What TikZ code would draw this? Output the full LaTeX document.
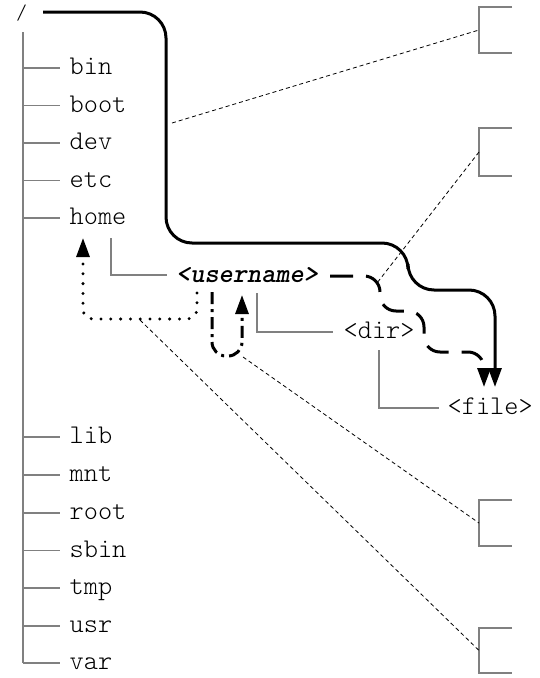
\documentclass[tikz,border=0pt]{standalone}
\usepackage{fontspec}
\usetikzlibrary{arrows.meta}
\definecolor{treegray}{RGB}{128,128,128}
\begin{document}
\begin{tikzpicture}[x=1pt,y=-1pt,
  tree/.style={draw=treegray, line width=1.7pt},
  lbl/.style={anchor=base west, inner sep=0pt, font=\ttfamily\fontseries{l}\fontsize{27pt}{32pt}\selectfont},
  heavy/.style={draw=black, line width=3pt},
  tip/.style={-{Triangle[length=19pt,width=13pt]}},
  thin dash/.style={draw=black, line width=0.8pt, dash pattern=on 4pt off 3pt},
  bracket/.style={draw=treegray, line width=1.8pt}]
\useasboundingbox (0,0) rectangle (540,678);

% labels
\node[lbl, font=\ttfamily\fontseries{l}\fontsize{21pt}{25pt}\selectfont] (root-dir) at (16,19) {/};
\foreach \n/\y in {bin/68, boot/105.5, dev/143, etc/180.5, home/218, lib/437, mnt/475, root/513, sbin/550.5, tmp/588, usr/626, var/663} {
  \coordinate (b-\n) at (23,\y);
  \node[lbl] (\n) at (69.5,\y+6.5) {\n};
  \draw[tree] (b-\n) -- ++(37,0);
}
\coordinate (trunk-top) at (23,32);
\draw[tree] (trunk-top) -- (b-var);

\node[lbl] (user) at (176,282.5) {\fontseries{b}\slshape\selectfont <username>};
\node[lbl] (dir) at (343.5,338) {<dir>};
\node[lbl] (file) at (447.5,414) {<file>};

% gray connectors
\coordinate (h1) at (111,238);
\coordinate (h2) at (167,275);
\draw[tree] (h1) |- (h2);
\coordinate (u1) at (257,293);
\coordinate (u2) at (333,332);
\draw[tree] (u1) |- (u2);
\coordinate (d1) at (379,350);
\coordinate (d2) at (439,408);
\draw[tree] (d1) |- (d2);

% brackets
\foreach \n/\a/\b in {br1/7/53, br2/128/176, br3/500/546, br4/628/673} {
  \draw[bracket] (512,\a) -- (479,\a) -- (479,\b) -- (512,\b);
  \coordinate (\n) at (479,{(\a+\b)/2});
}

% heavy solid path
\coordinate (s0) at (43,12);
\coordinate (s1) at (495,387);
\draw[heavy, tip, rounded corners=26pt] (s0) -- (166,12) -- (166,243) -- (408,243) -- (408,290) -- (495,290) -- (s1);

% heavy dashed path
\coordinate (q0) at (330,276);
\coordinate (q1) at (484,387);
\draw[heavy, tip, dash pattern=on 23pt off 13pt, rounded corners=16pt] (q0) -- (380,276) -- (380,311) -- (424,311) -- (424,352) -- (484,352) -- (q1);

% heavy dotted path
\coordinate (p0) at (197,293);
\coordinate (p1) at (83,238);
\draw[heavy, line width=3.3pt, line cap=round, dash pattern=on 0pt off 9.8pt, rounded corners=10pt] (p0) -- (197,319) -- (83,319) -- (83,257);
\draw[heavy, tip] (83,256) -- (p1);

% heavy dash-dot path
\coordinate (c0) at (212,292);
\coordinate (c1) at (242,295);
\draw[heavy, tip, dash pattern=on 12pt off 5pt on 3pt off 5pt, rounded corners=14pt] (c0) -- (212,356) -- (242,356) -- (c1);

% thin dashed pointers
\coordinate (t1) at (172,123);
\coordinate (t2) at (377,283);
\coordinate (t3) at (243,357);
\coordinate (t4) at (140,320);
\draw[thin dash] (t1) -- (br1);
\draw[thin dash] (br2) -- (t2);
\draw[thin dash] (t3) -- (br3);
\draw[thin dash] (t4) -- (br4);
\end{tikzpicture}
\end{document}
